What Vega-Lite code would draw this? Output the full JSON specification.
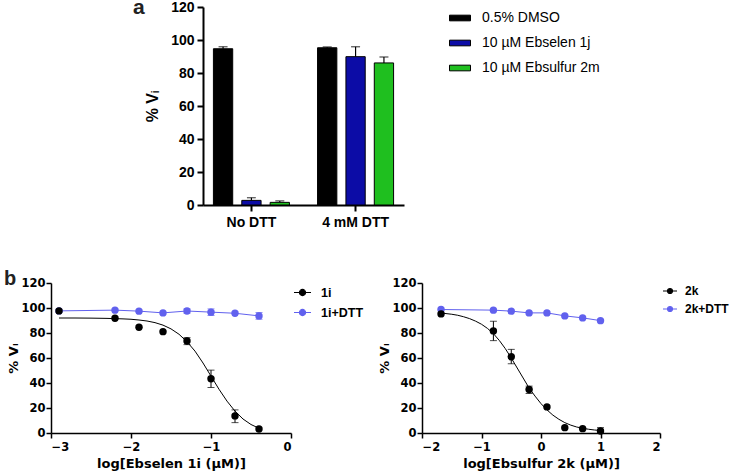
{
  "$schema": "https://vega.github.io/schema/vega-lite/v6.json",
  "background": "white",
  "padding": {"left": 3, "top": -4, "right": 0, "bottom": 0},
  "config": {
    "view": {"stroke": null},
    "font": "Liberation Sans",
    "axis": {"domainColor": "black", "tickColor": "black", "labelColor": "black", "titleColor": "black", "grid": false, "labelFontWeight": "bold", "titleFontWeight": "bold", "labelOverlap": false},
    "legend": {"labelColor": "black", "symbolOpacity": 1}
  },
  "datasets": {
    "bars": [
      {"cond": "No DTT", "treat": "0.5% DMSO", "v": 94.7, "hi": 95.9},
      {"cond": "No DTT", "treat": "10 µM Ebselen 1j", "v": 2.8, "hi": 4.4},
      {"cond": "No DTT", "treat": "10 µM Ebsulfur 2m", "v": 1.6, "hi": 2.5},
      {"cond": "4 mM DTT", "treat": "0.5% DMSO", "v": 95.3, "hi": 95.8},
      {"cond": "4 mM DTT", "treat": "10 µM Ebselen 1j", "v": 89.9, "hi": 95.9},
      {"cond": "4 mM DTT", "treat": "10 µM Ebsulfur 2m", "v": 86.1, "hi": 89.7}
    ],
    "curve1": [
      {"x": -2.9, "y": 92}, {"x": -2.7, "y": 92}, {"x": -2.5, "y": 91.9}, {"x": -2.3, "y": 91.7},
      {"x": -2.1, "y": 91.3}, {"x": -2.0, "y": 91}, {"x": -1.9, "y": 90.4}, {"x": -1.8, "y": 89.6},
      {"x": -1.7, "y": 88.3}, {"x": -1.6, "y": 86.3}, {"x": -1.5, "y": 83.3}, {"x": -1.4, "y": 79},
      {"x": -1.3, "y": 73}, {"x": -1.2, "y": 65.5}, {"x": -1.1, "y": 56}, {"x": -1.0, "y": 45.5},
      {"x": -0.9, "y": 35}, {"x": -0.8, "y": 25.5}, {"x": -0.7, "y": 17.5}, {"x": -0.6, "y": 11.2},
      {"x": -0.5, "y": 6.8}, {"x": -0.4, "y": 3.8}
    ],
    "curve2": [
      {"x": -1.68, "y": 96}, {"x": -1.5, "y": 95}, {"x": -1.4, "y": 94.2}, {"x": -1.3, "y": 93},
      {"x": -1.2, "y": 91.5}, {"x": -1.1, "y": 89.5}, {"x": -1.0, "y": 87}, {"x": -0.9, "y": 83.7},
      {"x": -0.8, "y": 79.5}, {"x": -0.7, "y": 74}, {"x": -0.6, "y": 67.5}, {"x": -0.5, "y": 60},
      {"x": -0.4, "y": 52}, {"x": -0.3, "y": 44}, {"x": -0.2, "y": 36}, {"x": -0.1, "y": 29.5},
      {"x": 0.0, "y": 23.5}, {"x": 0.1, "y": 18.5}, {"x": 0.2, "y": 14.3}, {"x": 0.3, "y": 11},
      {"x": 0.4, "y": 8.3}, {"x": 0.5, "y": 6.3}, {"x": 0.6, "y": 4.8}, {"x": 0.7, "y": 3.8},
      {"x": 0.8, "y": 3}, {"x": 0.9, "y": 2.4}, {"x": 1.0, "y": 2}
    ],
    "pts1": [
      {"x": -2.9, "y": 97.7, "s": "1i+DTT"},
      {"x": -2.2, "y": 98.3, "s": "1i+DTT"},
      {"x": -1.9, "y": 97.5, "s": "1i+DTT"},
      {"x": -1.6, "y": 96.1, "s": "1i+DTT"},
      {"x": -1.3, "y": 97.6, "s": "1i+DTT", "lo": 95.8, "hi": 99.3},
      {"x": -1.0, "y": 96.7, "s": "1i+DTT", "lo": 94.0, "hi": 99.3},
      {"x": -0.7, "y": 95.8, "s": "1i+DTT"},
      {"x": -0.4, "y": 93.7, "s": "1i+DTT", "lo": 91.0, "hi": 96.4},
      {"x": -2.9, "y": 97.7, "s": "1i"},
      {"x": -2.2, "y": 91.8, "s": "1i"},
      {"x": -1.9, "y": 84.6, "s": "1i"},
      {"x": -1.6, "y": 81.1, "s": "1i"},
      {"x": -1.3, "y": 73.6, "s": "1i", "lo": 70.7, "hi": 76.3},
      {"x": -1.0, "y": 43.4, "s": "1i", "lo": 36.4, "hi": 50.3},
      {"x": -0.7, "y": 13.7, "s": "1i", "lo": 8.3, "hi": 18.5},
      {"x": -0.4, "y": 3.2, "s": "1i"}
    ],
    "pts2": [
      {"x": -1.68, "y": 98.8, "s": "2k+DTT"},
      {"x": -0.8, "y": 98.3, "s": "2k+DTT"},
      {"x": -0.5, "y": 97.5, "s": "2k+DTT"},
      {"x": -0.2, "y": 96.1, "s": "2k+DTT"},
      {"x": 0.1, "y": 96.1, "s": "2k+DTT"},
      {"x": 0.4, "y": 93.7, "s": "2k+DTT"},
      {"x": 0.7, "y": 92.1, "s": "2k+DTT"},
      {"x": 1.0, "y": 89.9, "s": "2k+DTT"},
      {"x": -1.68, "y": 95.3, "s": "2k"},
      {"x": -0.8, "y": 81.7, "s": "2k", "lo": 73.9, "hi": 89.4},
      {"x": -0.5, "y": 61.0, "s": "2k", "lo": 55.4, "hi": 66.9},
      {"x": -0.2, "y": 34.8, "s": "2k", "lo": 31.6, "hi": 37.5},
      {"x": 0.1, "y": 20.9, "s": "2k"},
      {"x": 0.4, "y": 4.3, "s": "2k"},
      {"x": 0.7, "y": 3.5, "s": "2k"},
      {"x": 1.0, "y": 1.6, "s": "2k", "lo": 0, "hi": 4.3}
    ]
  },
  "resolve": {"scale": {"color": "independent"}, "legend": {"color": "independent"}},
  "spacing": 39,
  "vconcat": [
    {
      "spacing": 0,
      "hconcat": [
        {
          "width": 82, "height": 10,
          "data": {"values": [{"t": ""}]},
          "mark": {"type": "text"},
          "encoding": {"text": {"field": "t"}}
        },
        {
          "width": 201, "height": 198,
          "data": {"name": "bars"},
          "resolve": {"scale": {"x": "independent", "y": "independent"}, "axis": {"x": "independent", "y": "independent"}},
          "layer": [
            {
              "encoding": {
                "x": {"field": "cond", "type": "nominal", "sort": ["No DTT", "4 mM DTT"],
                      "scale": {"paddingInner": 0.27, "paddingOuter": 0.1},
                      "axis": {"title": null, "labelAngle": 0, "labelFontSize": 14, "domainWidth": 2, "tickWidth": 2, "tickSize": 6, "labelPadding": 4}},
                "xOffset": {"field": "treat", "type": "nominal", "sort": ["0.5% DMSO", "10 µM Ebselen 1j", "10 µM Ebsulfur 2m"],
                            "scale": {"paddingInner": 0.32, "paddingOuter": 0}},
                "y": {"field": "v", "type": "quantitative", "scale": {"domain": [0, 120]},
                      "axis": {"title": "% Vᵢ", "values": [0, 20, 40, 60, 80, 100, 120], "labelFontSize": 14, "titleFontSize": 16, "domainWidth": 2, "tickWidth": 2, "tickSize": 6, "labelPadding": 3, "titlePadding": 10}}
              },
              "layer": [
                {
                  "mark": {"type": "bar", "stroke": "black", "strokeWidth": 1},
                  "encoding": {
                    "color": {"field": "treat", "type": "nominal",
                              "scale": {"domain": ["0.5% DMSO", "10 µM Ebselen 1j", "10 µM Ebsulfur 2m"], "range": ["#000000", "#0c0ca6", "#1fbf1f"]},
                              "legend": {"title": null, "orient": "right", "offset": 45, "padding": 0, "labelFontSize": 14, "labelFontWeight": "normal", "labelOffset": 11, "rowPadding": 7,
                                         "symbolType": "M-1,-0.27H1V0.27H-1Z", "symbolSize": 441, "symbolStrokeColor": "black", "symbolStrokeWidth": 1}}
                  }
                },
                {
                  "mark": {"type": "rule", "color": "black", "strokeWidth": 1.2},
                  "encoding": {"y2": {"field": "hi"}}
                },
                {
                  "mark": {"type": "tick", "orient": "horizontal", "color": "black", "thickness": 1.2, "size": 9},
                  "encoding": {"y": {"field": "hi", "type": "quantitative", "scale": {"domain": [0, 120]},
                                     "axis": {"title": "% Vᵢ", "values": [0, 20, 40, 60, 80, 100, 120], "labelFontSize": 14, "titleFontSize": 16, "domainWidth": 2, "tickWidth": 2, "tickSize": 6, "labelPadding": 3, "titlePadding": 10}}}
                }
              ]
            },
            {
              "data": {"values": [{}]},
              "mark": {"type": "text", "text": "a", "fontSize": 21, "fontWeight": "bold", "color": "#222", "align": "left", "baseline": "alphabetic"},
              "encoding": {
                "x": {"datum": -0.348, "type": "quantitative", "scale": {"domain": [0, 1], "nice": false, "zero": false}, "axis": null},
                "y": {"datum": 115.8, "type": "quantitative", "scale": {"domain": [0, 120], "nice": false}, "axis": null}
              }
            }
          ]
        }
      ]
    },
    {
      "spacing": 14,
      "resolve": {"scale": {"color": "independent"}, "legend": {"color": "independent"}},
      "hconcat": [
        {
          "width": 240, "height": 150,
          "resolve": {"scale": {"x": "independent", "y": "independent"}, "axis": {"x": "independent", "y": "independent"}},
          "layer": [
            {
              "encoding": {
                "x": {"field": "x", "type": "quantitative", "scale": {"domain": [-3, 0], "nice": false},
                      "axis": {"values": [-3, -2, -1, 0], "title": "log[Ebselen 1i (µM)]", "labelFont": "DejaVu Sans", "titleFont": "DejaVu Sans", "labelFontSize": 11.5, "titleFontSize": 13, "domainWidth": 1.5, "tickWidth": 1.5, "tickSize": 5, "labelPadding": 3, "titlePadding": 5}},
                "y": {"field": "y", "type": "quantitative", "scale": {"domain": [0, 120]},
                      "axis": {"values": [0, 20, 40, 60, 80, 100, 120], "title": "% Vᵢ", "labelFont": "DejaVu Sans", "titleFont": "DejaVu Sans", "labelFontSize": 11.5, "titleFontSize": 13, "domainWidth": 1.5, "tickWidth": 1.5, "tickSize": 5, "labelPadding": 1, "titlePadding": 0}}
              },
              "layer": [
                {"data": {"name": "curve1"}, "mark": {"type": "line", "color": "black", "strokeWidth": 1}},
                {"data": {"name": "pts1"}, "transform": [{"filter": "datum.s === '1i+DTT'"}], "mark": {"type": "line", "color": "#6161ee", "strokeWidth": 1}},
                {"data": {"name": "pts1"}, "transform": [{"filter": "isValid(datum.lo)"}], "mark": {"type": "rule", "strokeWidth": 1},
                 "encoding": {"y": {"field": "lo", "type": "quantitative"}, "y2": {"field": "hi"}, "color": {"field": "s", "type": "nominal"}}},
                {"data": {"name": "pts1"}, "transform": [{"filter": "isValid(datum.lo)"}], "mark": {"type": "tick", "orient": "horizontal", "size": 7, "thickness": 1},
                 "encoding": {"y": {"field": "lo", "type": "quantitative"}, "color": {"field": "s", "type": "nominal"}}},
                {"data": {"name": "pts1"}, "transform": [{"filter": "isValid(datum.lo)"}], "mark": {"type": "tick", "orient": "horizontal", "size": 7, "thickness": 1},
                 "encoding": {"y": {"field": "hi", "type": "quantitative"}, "color": {"field": "s", "type": "nominal"}}},
                {"data": {"name": "pts1"}, "mark": {"type": "point", "filled": true, "size": 55, "opacity": 1},
                 "encoding": {"color": {"field": "s", "type": "nominal", "scale": {"domain": ["1i", "1i+DTT"], "range": ["#000000", "#6161ee"]},
                                        "legend": {"title": null, "orient": "right", "offset": 2, "padding": 0, "labelFontSize": 12.5, "labelFontWeight": "bold", "labelOffset": 9, "rowPadding": 4,
                                                   "symbolType": "M-1,0H1M0.36,0A0.36,0.36,0,1,1,-0.36,0A0.36,0.36,0,1,1,0.36,0Z", "symbolSize": 289,
                                                   "encode": {"symbols": {"update": {
                                                     "fill": [{"test": "indexof(datum.value, 'DTT') < 0", "value": "#000000"}, {"value": "#6161ee"}],
                                                     "stroke": [{"test": "indexof(datum.value, 'DTT') < 0", "value": "#000000"}, {"value": "#6161ee"}],
                                                     "strokeWidth": {"value": 1.2}, "opacity": {"value": 1}}}}}}}}
              ]
            },
            {
              "data": {"values": [{}]},
              "mark": {"type": "text", "text": "b", "fontSize": 20, "fontWeight": "bold", "color": "#222", "align": "left", "baseline": "alphabetic"},
              "encoding": {
                "x": {"datum": -0.196, "type": "quantitative", "scale": {"domain": [0, 1], "nice": false, "zero": false}, "axis": null},
                "y": {"datum": 0.987, "type": "quantitative", "scale": {"domain": [0, 1], "nice": false, "zero": false}, "axis": null}
              }
            }
          ]
        },
        {
          "width": 238, "height": 150,
          "encoding": {
            "x": {"field": "x", "type": "quantitative", "scale": {"domain": [-2, 2], "nice": false},
                  "axis": {"values": [-2, -1, 0, 1, 2], "title": "log[Ebsulfur 2k (µM)]", "labelFont": "DejaVu Sans", "titleFont": "DejaVu Sans", "labelFontSize": 11.5, "titleFontSize": 13, "domainWidth": 1.5, "tickWidth": 1.5, "tickSize": 5, "labelPadding": 3, "titlePadding": 5}},
            "y": {"field": "y", "type": "quantitative", "scale": {"domain": [0, 120]},
                  "axis": {"values": [0, 20, 40, 60, 80, 100, 120], "title": "% Vᵢ", "labelFont": "DejaVu Sans", "titleFont": "DejaVu Sans", "labelFontSize": 11.5, "titleFontSize": 13, "domainWidth": 1.5, "tickWidth": 1.5, "tickSize": 5, "labelPadding": 1, "titlePadding": 0}}
          },
          "layer": [
            {"data": {"name": "curve2"}, "mark": {"type": "line", "color": "black", "strokeWidth": 1}},
            {"data": {"name": "pts2"}, "transform": [{"filter": "datum.s === '2k+DTT'"}], "mark": {"type": "line", "color": "#6161ee", "strokeWidth": 1}},
            {"data": {"name": "pts2"}, "transform": [{"filter": "isValid(datum.lo)"}], "mark": {"type": "rule", "strokeWidth": 1},
             "encoding": {"y": {"field": "lo", "type": "quantitative"}, "y2": {"field": "hi"}, "color": {"field": "s", "type": "nominal"}}},
            {"data": {"name": "pts2"}, "transform": [{"filter": "isValid(datum.lo)"}], "mark": {"type": "tick", "orient": "horizontal", "size": 7, "thickness": 1},
             "encoding": {"y": {"field": "lo", "type": "quantitative"}, "color": {"field": "s", "type": "nominal"}}},
            {"data": {"name": "pts2"}, "transform": [{"filter": "isValid(datum.lo)"}], "mark": {"type": "tick", "orient": "horizontal", "size": 7, "thickness": 1},
             "encoding": {"y": {"field": "hi", "type": "quantitative"}, "color": {"field": "s", "type": "nominal"}}},
            {"data": {"name": "pts2"}, "mark": {"type": "point", "filled": true, "size": 55, "opacity": 1},
             "encoding": {"color": {"field": "s", "type": "nominal", "scale": {"domain": ["2k", "2k+DTT"], "range": ["#000000", "#6161ee"]},
                                    "legend": {"title": null, "orient": "right", "offset": 2, "padding": 0, "labelFontSize": 12, "labelFontWeight": "bold", "labelOffset": 7, "rowPadding": 4,
                                               "symbolType": "M-1,0H1M0.36,0A0.36,0.36,0,1,1,-0.36,0A0.36,0.36,0,1,1,0.36,0Z", "symbolSize": 196,
                                               "encode": {"symbols": {"update": {
                                                 "fill": [{"test": "indexof(datum.value, 'DTT') < 0", "value": "#000000"}, {"value": "#6161ee"}],
                                                 "stroke": [{"test": "indexof(datum.value, 'DTT') < 0", "value": "#000000"}, {"value": "#6161ee"}],
                                                 "strokeWidth": {"value": 1.2}, "opacity": {"value": 1}}}}}}}}
          ]
        }
      ]
    }
  ]
}
